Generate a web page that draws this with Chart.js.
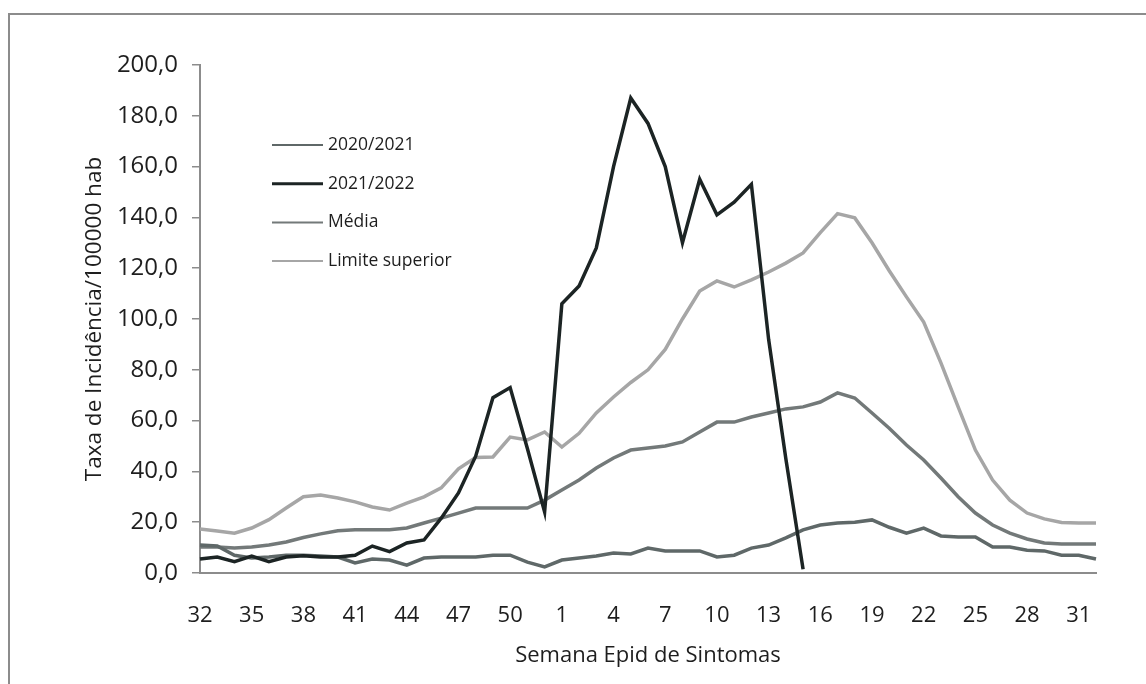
<!DOCTYPE html>
<html>
<head>
<meta charset="utf-8">
<script src="https://cdn.jsdelivr.net/npm/chart.js@4.4.1/dist/chart.umd.min.js"></script>
<style>
  html, body { margin: 0; padding: 0; background: #fff; }
  #wrap { position: relative; width: 1146px; height: 684px; overflow: hidden; background: #fff; }
  #frame { position: absolute; left: 8px; top: 13px; width: 1160px; height: 700px; border: 2px solid #8c8c8c; box-sizing: border-box; }
  #c { position: absolute; left: 0; top: 0; }
</style>
</head>
<body>
<div id="wrap">
  <div id="frame"></div>
  <canvas id="c" width="1146" height="684"></canvas>
</div>
<script>
// Epidemiological weeks (32..52 then 1..32)
const weeks = ['32','33','34','35','36','37','38','39','40','41','42','43','44','45','46','47','48','49','50','51','52',
               '1','2','3','4','5','6','7','8','9','10','11','12','13','14','15','16','17','18','19','20','21','22','23','24','25','26','27','28','29','30','31','32'];

const season2020_2021 = [11, 10.6, 7, 5.9, 6.3, 7, 7, 6.7, 6.3, 4, 5.5, 5.1, 3.1, 5.9, 6.3, 6.3, 6.3, 7, 7, 4.3, 2.4,
  5.1, 5.9, 6.7, 7.9, 7.5, 9.8, 8.7, 8.7, 8.7, 6.3, 7, 9.8, 11, 13.8, 17, 18.9, 19.7, 20, 20.9, 18, 15.7, 17.7, 14.6, 14.2, 14.2, 10.2, 10.2, 9, 8.7, 7, 7, 5.5];

const season2021_2022 = [5.5, 6.3, 4.5, 6.7, 4.5, 6.3, 6.8, 6.3, 6.3, 7, 10.6, 8.4, 11.8, 13, 21.6, 31.5, 46, 69, 73, 49, 24,
  106, 113, 128, 160, 187, 177, 160, 130, 155, 141, 146, 153, 92, 45, 1.5,
  null, null, null, null, null, null, null, null, null, null, null, null, null, null, null, null, null];

const media = [10.2, 10.2, 9.8, 10.2, 11, 12.2, 14, 15.4, 16.6, 17, 17, 17, 17.7, 19.7, 21.6, 23.6, 25.6, 25.6, 25.6, 25.6, 28.7,
  32.7, 36.6, 41.3, 45.3, 48.4, 49.2, 50, 51.6, 55.5, 59.4, 59.4, 61.4, 63, 64.6, 65.4, 67.3, 70.9, 68.9, 63, 57, 50.4, 44.5, 37.4, 30, 23.6, 18.9, 15.7, 13.4, 11.8, 11.4, 11.4, 11.4];

const limiteSuperior = [17.3, 16.5, 15.7, 17.7, 21, 25.6, 30, 30.7, 29.5, 28, 26, 24.8, 27.5, 30, 33.5, 41, 45.5, 45.7, 53.5, 52.4, 55.5,
  49.6, 55, 63, 69.3, 75, 80, 88, 100, 111, 115, 112.6, 115.4, 118.5, 122, 126, 134, 141.5, 139.8, 130, 119, 108.7, 98.8, 82.7, 65.4, 48.4, 36.6, 28.7, 23.6, 21.3, 19.9, 19.7, 19.7];

const seriesNames = ['2020/2021', '2021/2022', 'Média', 'Limite superior'];
const yTitle = 'Taxa de Incidência/100000 hab';
const xTitle = 'Semana Epid de Sintomas';

const colors = ['#5f6868', '#1c2424', '#737979', '#a6a6a6'];
const legendWidths = [2, 3, 2, 2];

const FONT = "'Open Sans', 'DejaVu Sans', sans-serif";
Chart.defaults.font.family = FONT;
Chart.defaults.color = '#1e1e1e';

const legendPlugin = {
  id: 'customLegend',
  afterDatasetsDraw(chart) {
    const ctx = chart.ctx;
    ctx.save();
    ctx.font = '17.5px ' + FONT;
    ctx.textBaseline = 'middle';
    ctx.textAlign = 'left';
    seriesNames.forEach((name, i) => {
      const y = 145 + i * 38.7;
      ctx.strokeStyle = colors[i];
      ctx.lineWidth = legendWidths[i];
      ctx.beginPath();
      ctx.moveTo(272, y);
      ctx.lineTo(323, y);
      ctx.stroke();
      ctx.fillStyle = '#1e1e1e';
      ctx.fillText(name, 328, y);
    });
    ctx.restore();
  }
};

const dataArrays = [season2020_2021, season2021_2022, media, limiteSuperior];
const orders = [1, 0, 2, 3];

new Chart(document.getElementById('c'), {
  type: 'line',
  data: {
    labels: weeks,
    datasets: dataArrays.map((d, i) => ({
      label: seriesNames[i],
      data: d,
      borderColor: colors[i],
      backgroundColor: colors[i],
      borderWidth: 3.5,
      pointRadius: 0,
      tension: 0,
      fill: false,
      spanGaps: false,
      order: orders[i]
    }))
  },
  options: {
    responsive: false,
    animation: false,
    devicePixelRatio: 1,
    layout: { padding: { top: 65, right: 50, bottom: 0, left: 0 } },
    plugins: { legend: { display: false }, tooltip: { enabled: false } },
    scales: {
      x: {
        type: 'category',
        offset: false,
        grid: { display: false, drawTicks: false },
        border: { display: true, color: '#8c8c8c', width: 2 },
        ticks: {
          autoSkip: false,
          maxRotation: 0,
          padding: 30,
          font: { size: 22 },
          color: '#1e1e1e',
          callback: (v, i) => (i % 3 === 0 ? weeks[i] : '')
        },
        title: { display: true, text: xTitle, font: { size: 22 }, color: '#1e1e1e', padding: { top: 0, bottom: 15 } },
        afterFit: (s) => { s.height = 111; }
      },
      y: {
        min: 0,
        max: 200,
        grid: { display: true, drawOnChartArea: false, drawTicks: true, tickLength: 8, color: '#8c8c8c', lineWidth: 1.5 },
        border: { display: true, color: '#8c8c8c', width: 2 },
        ticks: {
          stepSize: 20,
          padding: 14,
          font: { size: 24 },
          color: '#1e1e1e',
          callback: (v) => Number(v).toFixed(1).replace('.', ',')
        },
        title: { display: true, text: yTitle, font: { size: 22.5 }, color: '#1e1e1e', padding: { top: 81, bottom: 0 } },
        afterFit: (s) => { s.width = 200; }
      }
    }
  },
  plugins: [legendPlugin]
});
</script>
</body>
</html>
